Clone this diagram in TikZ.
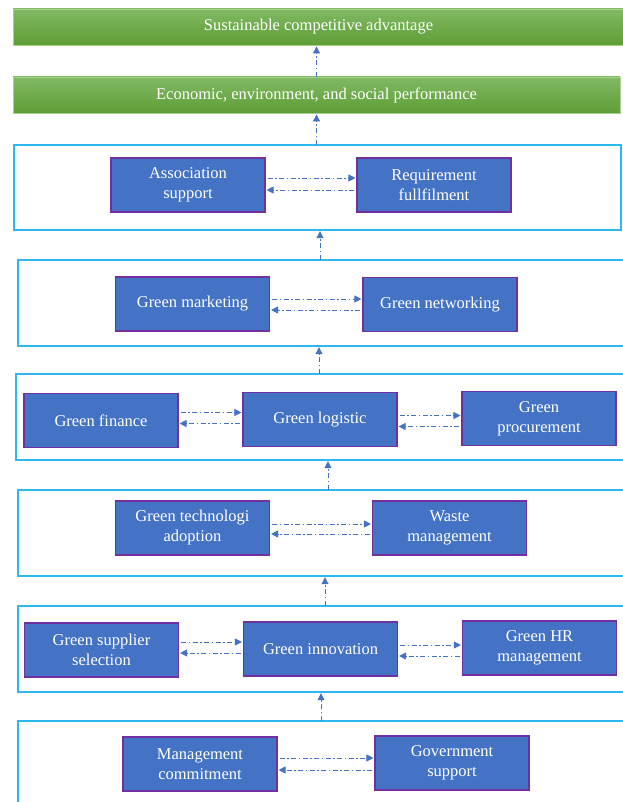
\documentclass[tikz,border=0pt]{standalone}
\usepackage{fontspec}
\setmainfont{Liberation Serif}
\usepackage{xcolor}
\usetikzlibrary{positioning,calc,arrows.meta}
\definecolor{boxblue}{HTML}{4472C4}
\definecolor{boxline}{HTML}{7030A0}
\definecolor{framecyan}{HTML}{2EB9EE}
\definecolor{bartop}{HTML}{80B963}
\definecolor{barbot}{HTML}{5E9E36}
\definecolor{barline}{HTML}{A9D18E}

\begin{document}
\begin{tikzpicture}[x=1pt, y=-1pt,
        factor/.style={draw=boxline, fill=boxblue, line width=1.1pt, text=white, align=center,
            minimum width=154pt, minimum height=54pt, inner sep=2pt,
            font=\fontsize{16.5}{20}\selectfont},
        result/.style={draw=barline, line width=0.8pt, top color=bartop, bottom color=barbot,
            text=white, minimum height=36pt, font=\fontsize{16.5}{20}\selectfont},
        stage/.style={draw=framecyan, line width=1.3pt},
        link/.style={draw=boxblue, line width=0.9pt, dash pattern=on 5pt off 2.5pt on 1.5pt off 2.5pt,
            -{Triangle[length=7pt,width=7pt]}, shorten <=2pt, shorten >=1pt}]
        \useasboundingbox (0,0) rectangle (622,802);

        % Outcome bars
        \node[result, minimum width=611pt] (sca) at (318.5,27) {Sustainable competitive advantage};
        \node[result, minimum width=607pt] (perf) at (316.5,95) {Economic, environment, and social performance};

        % Stage frames
        \draw[stage] (14,145) rectangle (621,230);
        \node[inner sep=0pt, minimum width=607pt, minimum height=85pt] (st1) at (317.5,187.5) {};
        \draw[stage] (18,260) rectangle (626,346);
        \node[inner sep=0pt, minimum width=608pt, minimum height=86pt] (st2) at (322,303) {};
        \draw[stage] (16,374) rectangle (626,460);
        \node[inner sep=0pt, minimum width=610pt, minimum height=86pt] (st3) at (321,417) {};
        \draw[stage] (18,490) rectangle (626,576);
        \node[inner sep=0pt, minimum width=608pt, minimum height=86pt] (st4) at (322,533) {};
        \draw[stage] (18,606) rectangle (626,692);
        \node[inner sep=0pt, minimum width=608pt, minimum height=86pt] (st5) at (322,649) {};
        \draw[stage] (18,721) rectangle (626,810);
        \node[inner sep=0pt, minimum width=608pt, minimum height=89pt] (st6) at (322,765.5) {};

        % Factors
        \node[factor] (assoc) at (188,185) {Association\\support};
        \node[factor] (req) at (434,185) {Requirement\\fullfilment};

        \node[factor] (gmark) at (192.5,304) {Green marketing};
        \node[factor] (gnet) at (440,304.5) {Green networking};

        \node[factor] (gfin) at (101,420.5) {Green finance};
        \node[factor] (glog) at (320,419.5) {Green logistic};
        \node[factor] (gproc) at (539,418.5) {Green\\procurement};

        \node[factor] (gtech) at (192.5,528) {Green technologi\\adoption};
        \node[factor] (waste) at (449.5,528) {Waste\\management};

        \node[factor] (gsup) at (101.5,650) {Green supplier\\selection};
        \node[factor] (ginno) at (320.5,649) {Green innovation};
        \node[factor] (ghr) at (539.5,648) {Green HR\\management};

        \node[factor] (mgmt) at (200,764) {Management\\commitment};
        \node[factor] (gov) at (452,763) {Government\\support};

        % Two-way links inside the stages
        \draw[link] ([yshift=7pt]assoc.east) -- ([yshift=7pt]req.west);
        \draw[link] ([yshift=-5pt]req.west) -- ([yshift=-5pt]assoc.east);
        \draw[link] ([yshift=5pt]gmark.east) -- ([yshift=5pt]gmark.east -| gnet.west);
        \draw[link] ([yshift=-6pt]gmark.east -| gnet.west) -- ([yshift=-6pt]gmark.east);
        \draw[link] ([yshift=8pt]gfin.east) -- ([yshift=8pt]gfin.east -| glog.west);
        \draw[link] ([yshift=-3pt]gfin.east -| glog.west) -- ([yshift=-3pt]gfin.east);
        \draw[link] ([yshift=4pt]glog.east) -- ([yshift=4pt]glog.east -| gproc.west);
        \draw[link] ([yshift=-7pt]glog.east -| gproc.west) -- ([yshift=-7pt]glog.east);
        \draw[link] ([yshift=4pt]gtech.east) -- ([yshift=4pt]gtech.east -| waste.west);
        \draw[link] ([yshift=-6pt]gtech.east -| waste.west) -- ([yshift=-6pt]gtech.east);
        \draw[link] ([yshift=8pt]gsup.east) -- ([yshift=8pt]gsup.east -| ginno.west);
        \draw[link] ([yshift=-3pt]gsup.east -| ginno.west) -- ([yshift=-3pt]gsup.east);
        \draw[link] ([yshift=4pt]ginno.east) -- ([yshift=4pt]ginno.east -| ghr.west);
        \draw[link] ([yshift=-7pt]ginno.east -| ghr.west) -- ([yshift=-7pt]ginno.east);
        \draw[link] ([yshift=6pt]mgmt.east) -- ([yshift=6pt]mgmt.east -| gov.west);
        \draw[link] ([yshift=-6pt]mgmt.east -| gov.west) -- ([yshift=-6pt]mgmt.east);

        % Upward links between the stages
        \draw[link, shorten <=0pt] ([xshift=-1pt]st6.north) -- ([xshift=-1pt]st6.north |- st5.south);
        \draw[link, shorten <=0pt] ([xshift=3pt]st5.north) -- ([xshift=3pt]st5.north |- st4.south);
        \draw[link, shorten <=0pt] ([xshift=6pt]st4.north) -- ([xshift=6pt]st4.north |- st3.south);
        \draw[link, shorten <=0pt] ([xshift=-2pt]st3.north) -- ([xshift=-2pt]st3.north |- st2.south);
        \draw[link, shorten <=0pt] ([xshift=-2pt]st2.north) -- ([xshift=-2pt]st2.north |- st1.south);
        \draw[link, shorten <=0pt] (st1.north -| perf) -- (perf.south);
        \draw[link, shorten <=0pt] (perf.north) -- (perf.north |- sca.south);
    \end{tikzpicture}
\end{document}
